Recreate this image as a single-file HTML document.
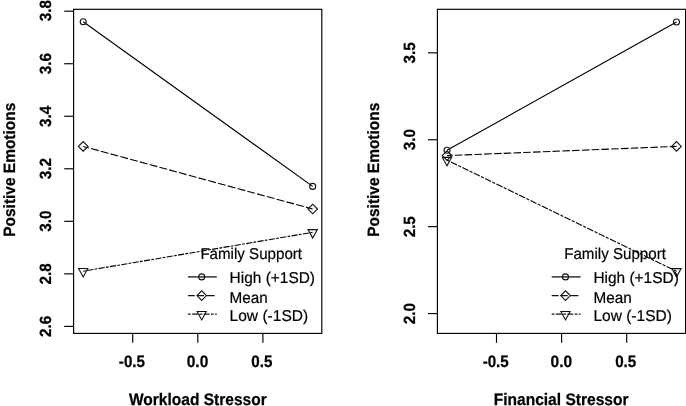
<!DOCTYPE html>
<html><head><meta charset="utf-8"><title>Interaction plots</title>
<style>
html,body{margin:0;padding:0;background:#fff;}
body{width:686px;height:406px;overflow:hidden;}
svg{display:block;}
text{font-family:"Liberation Sans",Arial,Helvetica,sans-serif;fill:#000;font-size:16.6px;text-rendering:geometricPrecision;}
.b{font-weight:bold;stroke:#000;stroke-width:0.25px;}
.r{font-weight:normal;font-size:15.7px;stroke:#000;stroke-width:0.2px;}
.v{font-size:16.4px;}
.t{font-size:16.2px;}
.ax{stroke:#000;stroke-width:1.15;fill:none;}
.ln{stroke:#000;stroke-width:1.12;fill:none;}
.lg{stroke:#151515;stroke-width:1.3;fill:none;}
.mk{stroke:#111;stroke-width:1.1;fill:none;}
</style></head><body>
<svg width="686" height="406" viewBox="0 0 686 406">
<rect width="686" height="406" fill="#fff"/>
<rect x="73.60" y="9.30" width="248.20" height="324.10" fill="none" stroke="#000" stroke-width="1.15"/>
<line x1="64.20" y1="11.20" x2="73.60" y2="11.20" class="ax"/>
<text class="b t" transform="translate(51.35,21.28) rotate(-90) scale(0.9400,1)">3.8</text>
<line x1="64.20" y1="63.73" x2="73.60" y2="63.73" class="ax"/>
<text class="b t" transform="translate(51.35,74.27) rotate(-90) scale(0.9400,1)">3.6</text>
<line x1="64.20" y1="116.26" x2="73.60" y2="116.26" class="ax"/>
<text class="b t" transform="translate(51.35,127.02) rotate(-90) scale(0.9400,1)">3.4</text>
<line x1="64.20" y1="168.79" x2="73.60" y2="168.79" class="ax"/>
<text class="b t" transform="translate(51.35,179.28) rotate(-90) scale(0.9400,1)">3.2</text>
<line x1="64.20" y1="221.32" x2="73.60" y2="221.32" class="ax"/>
<text class="b t" transform="translate(51.35,231.81) rotate(-90) scale(0.9400,1)">3.0</text>
<line x1="64.20" y1="273.85" x2="73.60" y2="273.85" class="ax"/>
<text class="b t" transform="translate(51.35,284.52) rotate(-90) scale(0.9400,1)">2.8</text>
<line x1="64.20" y1="326.38" x2="73.60" y2="326.38" class="ax"/>
<text class="b t" transform="translate(51.35,337.01) rotate(-90) scale(0.9400,1)">2.6</text>
<line x1="132.70" y1="333.40" x2="132.70" y2="342.80" class="ax"/>
<text class="b" transform="translate(118.87,366.80) scale(0.9113,1)">-0.5</text>
<line x1="197.80" y1="333.40" x2="197.80" y2="342.80" class="ax"/>
<text class="b" transform="translate(186.75,366.80) scale(0.9322,1)">0.0</text>
<line x1="262.90" y1="333.40" x2="262.90" y2="342.80" class="ax"/>
<text class="b" transform="translate(251.36,366.80) scale(0.9146,1)">0.5</text>
<text class="b" transform="translate(128.90,404.50) scale(0.9360,1)">Workload Stressor</text>
<text class="b v" transform="translate(15.20,236.72) rotate(-90) scale(0.9428,1)">Positive Emotions</text>
<line x1="83.20" y1="21.8" x2="312.70" y2="186.4" class="ln"/>
<line x1="83.20" y1="146.45" x2="312.70" y2="209.0" class="ln" stroke-dasharray="7.877 2.249" stroke-dashoffset="2.02"/>
<line x1="83.20" y1="271.2" x2="312.70" y2="232.3" class="ln" stroke-dasharray="2.739 1.369 6.086 1.319"/>
<circle cx="83.20" cy="21.80" r="3.0" class="mk"/>
<path d="M78.40 146.45L83.20 141.65L88.00 146.45L83.20 151.25Z" class="mk"/>
<path d="M78.60 268.50L87.80 268.50L83.20 276.90Z" class="mk"/>
<circle cx="312.70" cy="186.40" r="3.0" class="mk"/>
<path d="M307.90 209.00L312.70 204.20L317.50 209.00L312.70 213.80Z" class="mk"/>
<path d="M308.10 229.60L317.30 229.60L312.70 238.00Z" class="mk"/>
<line x1="187.90" y1="276.9" x2="216.80" y2="276.9" class="lg"/>
<line x1="187.90" y1="295.6" x2="216.80" y2="295.6" class="lg" stroke-dasharray="6.9 2.25 6.95 2.9 7.7 100"/>
<line x1="187.90" y1="314.2" x2="216.80" y2="314.2" class="lg" stroke-dasharray="2.8 1.4 5.9 1.4"/>
<circle cx="201.70" cy="276.90" r="3.0" class="mk"/>
<path d="M196.90 295.60L201.70 290.80L206.50 295.60L201.70 300.40Z" class="mk"/>
<path d="M197.10 311.50L206.30 311.50L201.70 319.90Z" class="mk"/>
<text class="r" transform="translate(200.38,258.80) scale(0.9639,1)">Family Support</text>
<text class="r" transform="translate(229.60,283.00) scale(0.9844,1)">High (+1SD)</text>
<text class="r" transform="translate(229.62,302.50) scale(0.9744,1)">Mean</text>
<text class="r" transform="translate(229.60,320.60) scale(0.9898,1)">Low (-1SD)</text>
<rect x="437.40" y="9.30" width="248.20" height="324.10" fill="none" stroke="#000" stroke-width="1.15"/>
<line x1="428.00" y1="52.85" x2="437.40" y2="52.85" class="ax"/>
<text class="b t" transform="translate(415.15,63.43) rotate(-90) scale(0.9400,1)">3.5</text>
<line x1="428.00" y1="139.75" x2="437.40" y2="139.75" class="ax"/>
<text class="b t" transform="translate(415.15,150.24) rotate(-90) scale(0.9400,1)">3.0</text>
<line x1="428.00" y1="226.65" x2="437.40" y2="226.65" class="ax"/>
<text class="b t" transform="translate(415.15,237.32) rotate(-90) scale(0.9400,1)">2.5</text>
<line x1="428.00" y1="313.55" x2="437.40" y2="313.55" class="ax"/>
<text class="b t" transform="translate(415.15,324.13) rotate(-90) scale(0.9400,1)">2.0</text>
<line x1="496.50" y1="333.40" x2="496.50" y2="342.80" class="ax"/>
<text class="b" transform="translate(482.67,366.80) scale(0.9113,1)">-0.5</text>
<line x1="561.60" y1="333.40" x2="561.60" y2="342.80" class="ax"/>
<text class="b" transform="translate(550.55,366.80) scale(0.9322,1)">0.0</text>
<line x1="626.70" y1="333.40" x2="626.70" y2="342.80" class="ax"/>
<text class="b" transform="translate(615.16,366.80) scale(0.9146,1)">0.5</text>
<text class="b" transform="translate(493.68,404.50) scale(0.9373,1)">Financial Stressor</text>
<text class="b v" transform="translate(379.00,236.72) rotate(-90) scale(0.9428,1)">Positive Emotions</text>
<line x1="447.00" y1="150.3" x2="676.50" y2="22.0" class="ln"/>
<line x1="447.00" y1="155.6" x2="676.50" y2="146.4" class="ln" stroke-dasharray="7.606 2.172" stroke-dashoffset="1.95"/>
<line x1="447.00" y1="160.1" x2="676.50" y2="271.3" class="ln" stroke-dasharray="3.000 1.500 6.667 1.445"/>
<circle cx="447.00" cy="150.30" r="3.0" class="mk"/>
<path d="M442.20 155.60L447.00 150.80L451.80 155.60L447.00 160.40Z" class="mk"/>
<path d="M442.40 157.40L451.60 157.40L447.00 165.80Z" class="mk"/>
<circle cx="676.50" cy="22.00" r="3.0" class="mk"/>
<path d="M671.70 146.40L676.50 141.60L681.30 146.40L676.50 151.20Z" class="mk"/>
<path d="M671.90 268.60L681.10 268.60L676.50 277.00Z" class="mk"/>
<line x1="551.70" y1="276.9" x2="580.60" y2="276.9" class="lg"/>
<line x1="551.70" y1="295.6" x2="580.60" y2="295.6" class="lg" stroke-dasharray="6.9 2.25 6.95 2.9 7.7 100"/>
<line x1="551.70" y1="314.2" x2="580.60" y2="314.2" class="lg" stroke-dasharray="2.8 1.4 5.9 1.4"/>
<circle cx="565.50" cy="276.90" r="3.0" class="mk"/>
<path d="M560.70 295.60L565.50 290.80L570.30 295.60L565.50 300.40Z" class="mk"/>
<path d="M560.90 311.50L570.10 311.50L565.50 319.90Z" class="mk"/>
<text class="r" transform="translate(564.18,258.80) scale(0.9639,1)">Family Support</text>
<text class="r" transform="translate(593.40,283.00) scale(0.9844,1)">High (+1SD)</text>
<text class="r" transform="translate(593.42,302.50) scale(0.9744,1)">Mean</text>
<text class="r" transform="translate(593.40,320.60) scale(0.9898,1)">Low (-1SD)</text>
</svg>
</body></html>
